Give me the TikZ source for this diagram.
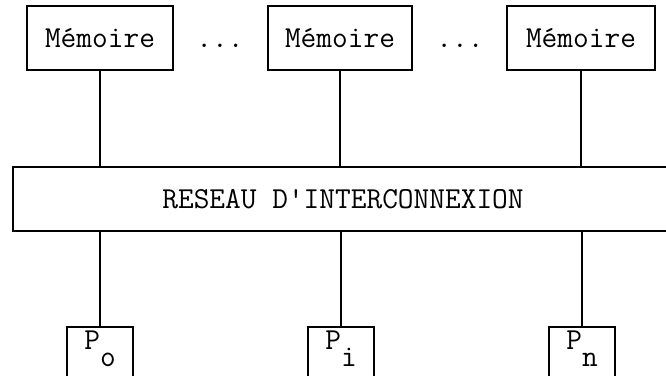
\documentclass[tikz,border=0pt]{standalone}
\usetikzlibrary{calc}
\tikzset{
  tt/.style={font=\ttfamily\fontsize{30.5}{32}\selectfont},
  membox/.style={draw, line width=1.7pt, minimum height=64pt, inner sep=0pt, text height=19pt, text depth=0pt, tt},
  netbox/.style={draw, line width=1.7pt, minimum width=660pt, minimum height=64pt, inner sep=0pt, text height=19pt, text depth=0pt, tt},
  pbox/.style={draw, line width=1.7pt, minimum width=66pt, minimum height=64pt, inner sep=0pt},
  plabel/.style={anchor=base, inner sep=0pt, tt},
  dots/.style={anchor=base, inner sep=0pt, tt},
  wire/.style={line width=1.7pt}
}
\begin{document}
\begin{tikzpicture}[x=1pt,y=-1pt]
\useasboundingbox (0,0) rectangle (666,375);
\clip (0,0) rectangle (666,375);
\fill[white] (0,0) rectangle (666,375);
\node[membox, minimum width=146pt] (m1) at (100,38) {Mémoire};
\node[membox, minimum width=144pt] (m2) at (340,38) {Mémoire};
\node[membox, minimum width=148pt] (m3) at (581,38) {Mémoire};
\node[dots] (d1) at (220,47) {...};
\node[dots] (d2) at (460,47) {...};
\node[netbox] (net) at (343,199) {RESEAU D'INTERCONNEXION};
\node[pbox] (p0) at (100,359) {};
\node[pbox] (p1) at (341,359) {};
\node[pbox] (p2) at (582,359) {};
\node[plabel] (l0) at ($(p0.north)+(0,23)$) {P\raisebox{-17pt}{o}};
\node[plabel] (l1) at ($(p1.north)+(0,23)$) {P\raisebox{-17pt}{i}};
\node[plabel] (l2) at ($(p2.north)+(0,23)$) {P\raisebox{-17pt}{n}};
\draw[wire] (m1.south) -- (m1.south |- net.north);
\draw[wire] (m2.south) -- (m2.south |- net.north);
\draw[wire] (m3.south) -- (m3.south |- net.north);
\draw[wire] (p0.north) -- (p0.north |- net.south);
\draw[wire] (p1.north) -- (p1.north |- net.south);
\draw[wire] (p2.north) -- (p2.north |- net.south);
\end{tikzpicture}
\end{document}
